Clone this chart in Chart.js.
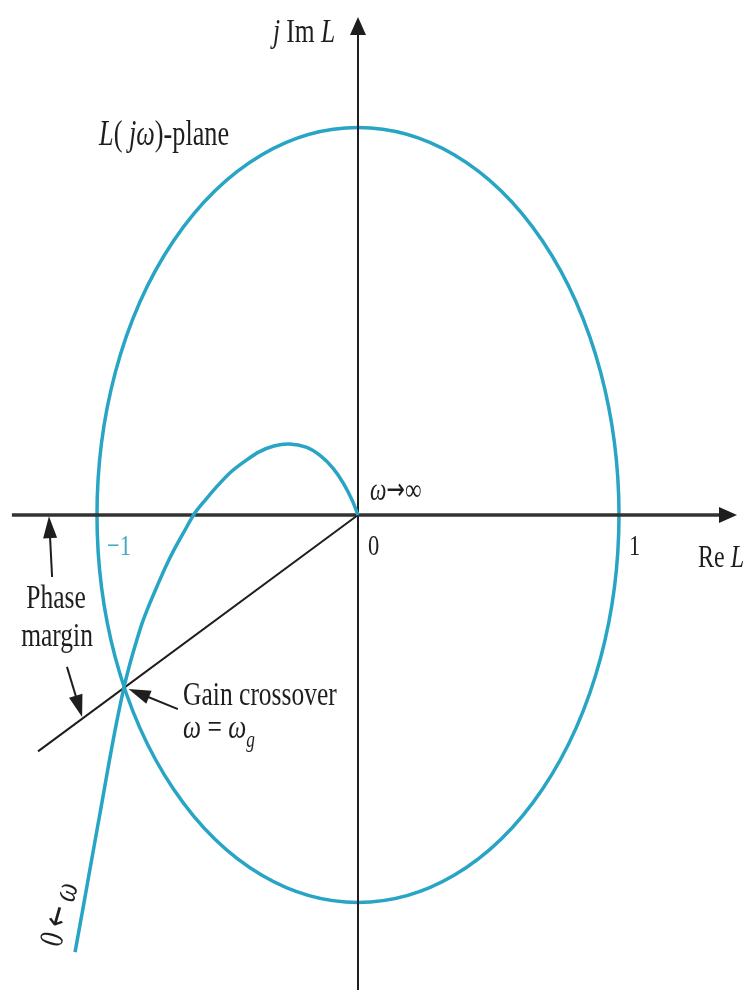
<!DOCTYPE html>
<html>
<head>
<meta charset="utf-8">
<script src="https://cdn.jsdelivr.net/npm/chart.js@4.4.1/dist/chart.umd.min.js"></script>
<style>
html, body { margin: 0; padding: 0; background: #fff; }
canvas { display: block; }
</style>
</head>
<body>
<canvas id="nyquist" width="746" height="996"></canvas>
<script>
// L(jw) locus, from w -> inf (origin) down to w -> 0
const locusRe = [0, -0.023, -0.057, -0.096, -0.142, -0.199, -0.264, -0.322, -0.379, -0.433, -0.487, -0.536,
  -0.582, -0.625, -0.663, -0.701, -0.736, -0.768, -0.799, -0.828, -0.852, -0.875, -0.897,
  -0.926, -0.952, -0.976, -1.000, -1.024, -1.048, -1.066, -1.084];
const locusIm = [0, 0.039, 0.083, 0.121, 0.152, 0.175, 0.183, 0.178, 0.163, 0.139, 0.111, 0.077,
  0.041, 0.005, -0.039, -0.085, -0.132, -0.181, -0.230, -0.281, -0.333, -0.387, -0.446,
  -0.539, -0.632, -0.723, -0.813, -0.903, -0.994, -1.061, -1.128];

// |L| = 1 circle and the gain crossover point on it
const unitRadius = 1;
const crossover = [-0.897, -0.446];
// phase margin ray from the origin through the crossover
const marginRayEnd = [-1.226, -0.610];

// axis extents
const reAxis = [-1.326, 1.452];
const imAxis = [-1.226, 1.285];

const tickValues = [-1, 0, 1];
const tickLabels = ['\u22121', '0', '1'];

const TEAL = '#28a4c4';
const INK = '#1e1e1e';
const FONT = '"Liberation Serif", "DejaVu Serif", serif';
const ARROW_FONT = '"DejaVu Sans", sans-serif';
const SQUEEZE = 0.75;

// text labels in data coordinates
const notes = [
  { at: [-0.326, 1.221], size: 34, segs: [{ t: 'j', i: true }, { t: ' Im ' }, { t: 'L', i: true }] },
  { at: [-0.992, 0.955], size: 35, segs: [{ t: 'L', i: true }, { t: '( ' }, { t: 'j\u03c9', i: true }, { t: ')-plane' }] },
  { at: [0.046, 0.039], size: 31, segs: [{ t: '\u03c9', i: true }, { t: '\u2192', f: ARROW_FONT, k: 0.95 }, { t: '\u221e' }] },
  { at: [1.303, -0.134], size: 32, segs: [{ t: 'Re ' }, { t: 'L', i: true }] },
  { at: [-1.157, -0.240], size: 34, align: 'center', segs: [{ t: 'Phase' }] },
  { at: [-1.153, -0.338], size: 34, align: 'center', segs: [{ t: 'margin' }] },
  { at: [-0.670, -0.490], size: 34, segs: [{ t: 'Gain crossover' }] },
  { at: [-0.670, -0.575], size: 34, segs: [{ t: '\u03c9', i: true }, { t: ' = ' }, { t: '\u03c9', i: true }, { t: 'g', i: true, sub: true }] },
  { at: [-1.140, -1.118], size: 34, rot: -74, segs: [{ t: '0 ' }, { t: '\u2190', f: ARROW_FONT, k: 1.0 }, { t: ' \u03c9', i: true }] }
];

// annotation arrows: [from, to]
const pointers = [
  [[-1.172, -0.160], [-1.184, -0.003]],
  [[-1.115, -0.392], [-1.057, -0.521]],
  [[-0.690, -0.501], [-0.879, -0.449]]
];

function segFont(s, size) {
  const sz = (s.sub ? 0.68 : (s.k || 1)) * size;
  return (s.i ? 'italic ' : '') + sz + 'px ' + (s.f || FONT);
}

function richWidth(ctx, segs, size) {
  let w = 0;
  segs.forEach(s => {
    ctx.font = segFont(s, size);
    w += ctx.measureText(s.t).width;
  });
  return w;
}

function drawRich(ctx, segs, x, y, size, opts) {
  opts = opts || {};
  ctx.save();
  ctx.translate(x, y);
  if (opts.rot) ctx.rotate(opts.rot * Math.PI / 180);
  ctx.scale(SQUEEZE, 1);
  ctx.fillStyle = opts.color || INK;
  ctx.textBaseline = 'alphabetic';
  ctx.textAlign = 'left';
  let cx = opts.align === 'center' ? -richWidth(ctx, segs, size) / 2 : 0;
  segs.forEach(s => {
    ctx.font = segFont(s, size);
    // arrows sit on the math axis, a bit above the baseline
    const dy = s.sub ? size * 0.28 : (s.f ? -size * 0.04 : 0);
    ctx.fillText(s.t, cx, dy);
    cx += ctx.measureText(s.t).width;
  });
  ctx.restore();
}

function arrowHead(ctx, x0, y0, x1, y1, len, half) {
  const a = Math.atan2(y1 - y0, x1 - x0);
  const bx = x1 - len * Math.cos(a), by = y1 - len * Math.sin(a);
  ctx.beginPath();
  ctx.moveTo(x1, y1);
  ctx.lineTo(bx + half * Math.sin(a), by - half * Math.cos(a));
  ctx.lineTo(bx - half * Math.sin(a), by + half * Math.cos(a));
  ctx.closePath();
  ctx.fill();
}

const planeDecor = {
  id: 'planeDecor',
  beforeDraw(chart) {
    const ctx = chart.ctx;
    ctx.save();
    ctx.fillStyle = '#fff';
    ctx.fillRect(0, 0, chart.width, chart.height);
    ctx.restore();
  },
  beforeDatasetsDraw(chart) {
    const { ctx, scales: { x, y } } = chart;
    // unit circle, stretched by the unequal axis scaling
    const cx = x.getPixelForValue(0), cy = y.getPixelForValue(0);
    const rx = x.getPixelForValue(unitRadius) - cx;
    const ry = cy - y.getPixelForValue(unitRadius);
    ctx.save();
    ctx.strokeStyle = TEAL;
    ctx.lineWidth = 3.5;
    ctx.beginPath();
    ctx.ellipse(cx, cy, rx, ry, 0, 0, Math.PI * 2);
    ctx.stroke();
    ctx.restore();
  },
  afterDatasetsDraw(chart) {
    const { ctx, scales: { x, y } } = chart;
    const px = v => x.getPixelForValue(v), py = v => y.getPixelForValue(v);
    ctx.save();
    ctx.fillStyle = INK;
    ctx.strokeStyle = INK;

    // axis arrowheads
    arrowHead(ctx, px(0), py(0), px(reAxis[1]), py(0), 18, 8);
    arrowHead(ctx, px(0), py(0), px(0), py(imAxis[1]), 18, 8);

    // pointer arrows
    ctx.lineWidth = 2;
    pointers.forEach(([from, to]) => {
      const x0 = px(from[0]), y0 = py(from[1]), x1 = px(to[0]), y1 = py(to[1]);
      const a = Math.atan2(y1 - y0, x1 - x0);
      ctx.beginPath();
      ctx.moveTo(x0, y0);
      ctx.lineTo(x1 - 14 * Math.cos(a), y1 - 14 * Math.sin(a));
      ctx.stroke();
      arrowHead(ctx, x0, y0, x1, y1, 22, 7);
    });
    ctx.restore();

    // tick numbers under the real axis
    tickValues.forEach((v, i) => {
      drawRich(ctx, [{ t: tickLabels[i] }], px(v) + 10, py(0) + 40, 30,
        { color: v === -1 ? '#3fa8c4' : INK });
    });

    notes.forEach(n => {
      drawRich(ctx, n.segs, px(n.at[0]), py(n.at[1]), n.size, { align: n.align, rot: n.rot });
    });
  }
};

const toPoints = (xs, ys) => xs.map((v, i) => ({ x: v, y: ys[i] }));

new Chart(document.getElementById('nyquist'), {
  type: 'scatter',
  data: {
    datasets: [
      {
        data: toPoints(locusRe, locusIm),
        showLine: true,
        borderColor: TEAL,
        borderWidth: 3.5,
        tension: 0.3,
        pointRadius: 0
      },
      {
        data: [{ x: 0, y: 0 }, { x: marginRayEnd[0], y: marginRayEnd[1] }],
        showLine: true,
        borderColor: INK,
        borderWidth: 2,
        pointRadius: 0
      },
      {
        data: [{ x: reAxis[0], y: 0 }, { x: reAxis[1] - 0.03, y: 0 }],
        showLine: true,
        borderColor: '#333',
        borderWidth: 3.5,
        pointRadius: 0
      },
      {
        data: [{ x: 0, y: imAxis[0] }, { x: 0, y: imAxis[1] - 0.03 }],
        showLine: true,
        borderColor: INK,
        borderWidth: 2,
        pointRadius: 0
      }
    ]
  },
  options: {
    responsive: false,
    animation: false,
    events: [],
    layout: { padding: 0, autoPadding: false },
    scales: {
      x: { type: 'linear', min: -1.3716, max: 1.4866, display: false },
      y: { type: 'linear', min: -1.2413, max: 1.329, display: false }
    },
    plugins: {
      legend: { display: false },
      tooltip: { enabled: false }
    }
  },
  plugins: [planeDecor]
});
</script>
</body>
</html>
